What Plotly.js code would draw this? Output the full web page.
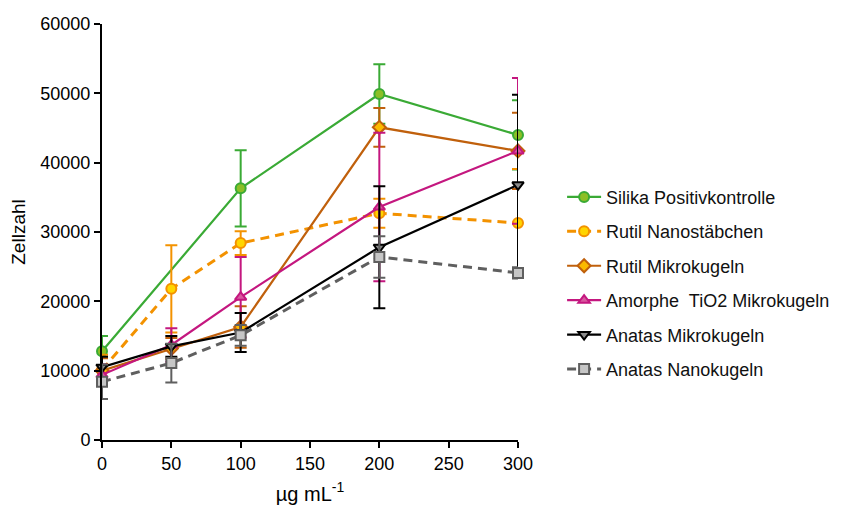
<!DOCTYPE html>
<html><head><meta charset="utf-8">
<script src="https://cdn.plot.ly/plotly-3.0.1.min.js"></script>
<style>body{margin:0;background:#fff}#chart{width:848px;height:509px}</style>
</head><body><div id="chart"></div>
<script>
const names = ["Silika Positivkontrolle","Rutil Nanostäbchen","Rutil Mikrokugeln","Amorphe  TiO2 Mikrokugeln","Anatas Mikrokugeln","Anatas Nanokugeln"];
const doses = [0, 50, 100, 200, 300];
const silikaX = [0, 100, 200, 300];
const silikaY = [12800, 36300, 49900, 44000];
const silikaErr = [2200, 5500, 4300, 5000];
const rutilNanoY = [10100, 21800, 28400, 32700, 31300];
const rutilNanoErr = [2200, 6300, 1700, 2100, 7800];
const rutilMikroY = [10000, 13200, 16300, 45100, 41700];
const rutilMikroErr = [1800, 1500, 3000, 2800, 5500];
const amorpheY = [9400, 13700, 20600, 33600, 41700];
const amorpheErr = [1500, 2400, 5800, 10700, 10500];
const anatasMikroY = [10500, 13500, 15500, 27800, 36800];
const anatasMikroErr = [1500, 1500, 2800, 8800, 13000];
const anatasNanoY = [8400, 11100, 15100, 26400, 24100];
const anatasNanoErr = [2500, 2800, 1500, 3000, 800];
const xTicks = [0, 50, 100, 150, 200, 250, 300];
const yTicks = [0, 10000, 20000, 30000, 40000, 50000, 60000];

function tr(i, x, y, err, line, dash, symbol, fill, border) {
  const dashed = dash !== 'solid';
  return {
    x: x, y: y, name: names[i], type: 'scatter', mode: 'lines+markers',
    legendgroup: 'g' + i, cliponaxis: false,
    line: {color: line, width: dashed ? 3 : 2.2, dash: dash},
    marker: {symbol: symbol, size: 10, color: fill, line: {color: border, width: 2}},
    error_y: {type: 'data', array: err, visible: true, color: line, thickness: 2, width: 6}
  };
}
const data = [
  tr(0, silikaX, silikaY, silikaErr, '#3aaa35', 'solid', 'circle', '#8cbf26', '#3aaa35'),
  tr(1, doses, rutilNanoY, rutilNanoErr, '#f39200', '9px,6px', 'circle', '#ffd500', '#f39200'),
  tr(2, doses, rutilMikroY, rutilMikroErr, '#c0600c', 'solid', 'diamond', '#fbba00', '#c0600c'),
  tr(3, doses, amorpheY, amorpheErr, '#c4177f', 'solid', 'triangle-up', '#d9589f', '#c4177f'),
  tr(4, doses, anatasMikroY, anatasMikroErr, '#000000', 'solid', 'triangle-down', '#8a8a8a', '#000000'),
  tr(5, doses, anatasNanoY, anatasNanoErr, '#5f5f5f', '9px,6px', 'square', '#c6c6c6', '#5f5f5f')
];
const layout = {
  width: 848, height: 509,
  margin: {l: 102, r: 330, t: 24, b: 69},
  paper_bgcolor: '#fff', plot_bgcolor: '#fff',
  font: {family: 'Liberation Sans, Arial, sans-serif', color: '#000', size: 18},
  showlegend: true,
  legend: {x: 1.106, xanchor: 'left', y: 0.628, yanchor: 'top', tracegroupgap: 8, itemwidth: 34,
           font: {size: 18, color: '#111'}, bgcolor: 'rgba(0,0,0,0)'},
  xaxis: {range: [0, 300], tickvals: xTicks, ticktext: xTicks.map(String), showgrid: false, zeroline: false,
          showline: true, linecolor: '#000', linewidth: 2, ticks: 'outside', ticklen: 6, tickwidth: 2, tickcolor: '#000',
          tickfont: {size: 18}, title: {text: 'µg mL<sup>-1</sup>', font: {size: 20}, standoff: 14}},
  yaxis: {range: [0, 60000], tickvals: yTicks, ticktext: yTicks.map(String), showgrid: false, zeroline: false,
          showline: true, linecolor: '#000', linewidth: 2, ticks: 'outside', ticklen: 6, tickwidth: 2, tickcolor: '#000',
          tickfont: {size: 18}, title: {text: 'Zellzahl', font: {size: 19}, standoff: 10}}
};
Plotly.newPlot('chart', data, layout, {displayModeBar: false, staticPlot: true});
</script></body></html>
